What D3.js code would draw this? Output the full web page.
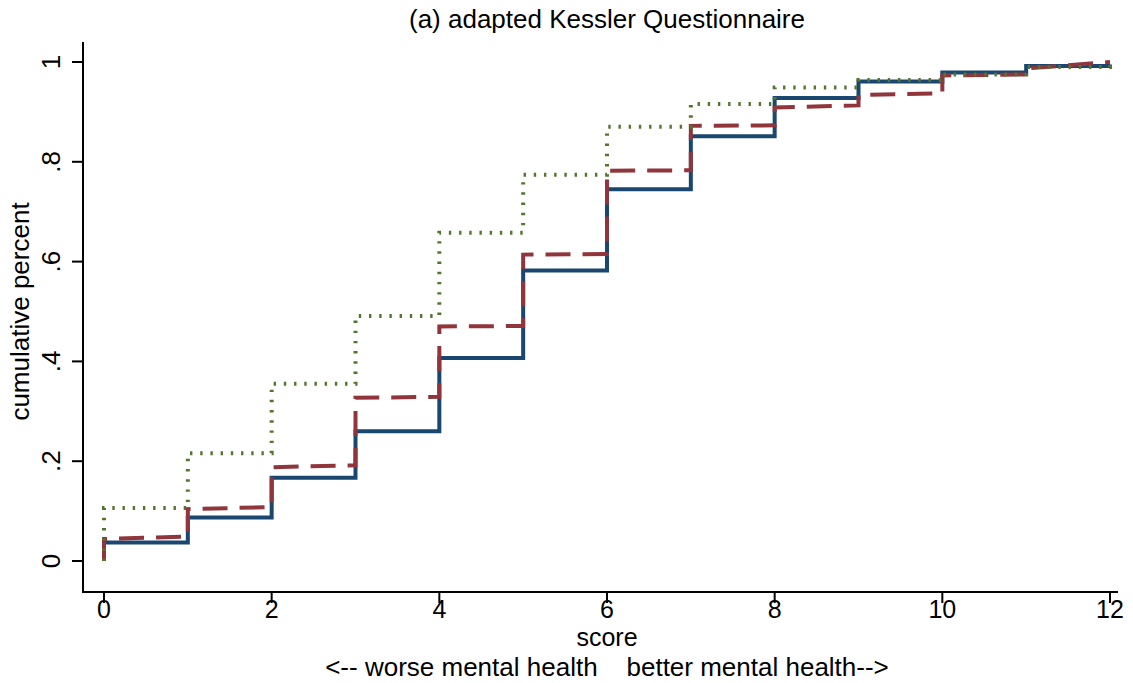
<!DOCTYPE html>
<html>
<head>
<meta charset="utf-8">
<script src="https://cdn.jsdelivr.net/npm/d3@7"></script>
<style>
  html, body { margin: 0; padding: 0; background: #fff; }
  svg { display: block; }
  text { font-family: "Liberation Sans", Arial, sans-serif; fill: #000; }
</style>
</head>
<body>
<svg id="chart" width="1133" height="683"></svg>
<script>
// Scores on the x axis (0..12)
const scores = [0, 1, 2, 3, 4, 5, 6, 7, 8, 9, 10, 11, 12];

// Cumulative share at each score (value holds from score i up to score i+1)
const groupSolid = [0.037, 0.087, 0.167, 0.260, 0.407, 0.582, 0.745, 0.851, 0.928, 0.961, 0.979, 0.992, 0.995];
const groupDashed = [0.044, 0.104, 0.188, 0.327, 0.470, 0.614, 0.782, 0.872, 0.909, 0.934, 0.973, 0.987, 1.000];
// dashed series drifts slightly before the next jump
const groupDashedEnd = [0.049, 0.108, 0.192, 0.329, 0.471, 0.615, 0.783, 0.873, 0.913, 0.937, 0.975, 1.000];
const groupDotted = [0.106, 0.216, 0.355, 0.491, 0.658, 0.774, 0.870, 0.916, 0.949, 0.964, 0.975, 0.990, 0.995];

const xTicks = [0, 2, 4, 6, 8, 10, 12];
const yTicks = [0, 0.2, 0.4, 0.6, 0.8, 1];
const yTickLabels = ["0", ".2", ".4", ".6", ".8", "1"];

const FONT = "26px";

const svg = d3.select("#chart");

const x = d3.scaleLinear().domain([0, 12]).range([104, 1110]);
const y = d3.scaleLinear().domain([0, 1]).range([561, 62]);

// Title
svg.append("text")
  .attr("x", 607).attr("y", 28)
  .attr("text-anchor", "middle")
  .style("font-size", FONT)
  .text("(a) adapted Kessler Questionnaire");

// Y axis
const yAxisX = 83;
svg.append("line")
  .attr("x1", yAxisX).attr("x2", yAxisX)
  .attr("y1", 42).attr("y2", 593)
  .attr("stroke", "#000").attr("stroke-width", 2);

const yAxis = svg.append("g");
yTicks.forEach((t, i) => {
  yAxis.append("line")
    .attr("x1", yAxisX - 11).attr("x2", yAxisX)
    .attr("y1", y(t)).attr("y2", y(t))
    .attr("stroke", "#000").attr("stroke-width", 2);
  yAxis.append("text")
    .attr("transform", `translate(${yAxisX - 23},${y(t)}) rotate(-90)`)
    .attr("text-anchor", "middle")
    .style("font-size", FONT)
    .text(yTickLabels[i]);
});

svg.append("text")
  .attr("transform", `translate(29,${(y(0) + y(1)) / 2}) rotate(-90)`)
  .attr("text-anchor", "middle")
  .style("font-size", FONT)
  .text("cumulative percent");

// X axis
const xAxisY = 592;
svg.append("line")
  .attr("x1", 82).attr("x2", 1118)
  .attr("y1", xAxisY).attr("y2", xAxisY)
  .attr("stroke", "#000").attr("stroke-width", 2);

const xAxis = svg.append("g");
xTicks.forEach(t => {
  xAxis.append("line")
    .attr("x1", x(t)).attr("x2", x(t))
    .attr("y1", xAxisY).attr("y2", xAxisY + 11)
    .attr("stroke", "#000").attr("stroke-width", 2);
  xAxis.append("text")
    .attr("x", x(t)).attr("y", 618)
    .attr("text-anchor", "middle")
    .style("font-size", "25px")
    .text(t);
});

svg.append("text")
  .attr("x", 607).attr("y", 646)
  .attr("text-anchor", "middle")
  .style("font-size", "25px")
  .text("score");
svg.append("text")
  .attr("x", 607).attr("y", 675.5)
  .attr("text-anchor", "middle")
  .style("font-size", FONT)
  .style("white-space", "pre")
  .text("<-- worse mental health    better mental health-->");

// Step path: rise at each score, run to the next score
function stepPoints(levels, ends) {
  const pts = [[scores[0], 0]];
  for (let i = 0; i < scores.length - 1; i++) {
    pts.push([scores[i], levels[i]]);
    pts.push([scores[i + 1], ends ? ends[i] : levels[i]]);
  }
  pts.push([scores[scores.length - 1], levels[levels.length - 1]]);
  return pts;
}

const line = d3.line().x(d => x(d[0])).y(d => y(d[1]));

const series = [
  { pts: stepPoints(groupSolid), color: "#1a476f", width: 4, dash: null },
  { pts: stepPoints(groupDashed, groupDashedEnd), color: "#90353b", width: 4, dash: "25,12" },
  { pts: stepPoints(groupDotted), color: "#55752f", width: 4, dash: "2.4,7.8" }
];

series.forEach(s => {
  const p = svg.append("path")
    .attr("d", line(s.pts))
    .attr("fill", "none")
    .attr("stroke", s.color)
    .attr("stroke-width", s.width)
    .attr("stroke-linejoin", "miter");
  if (s.dash) p.attr("stroke-dasharray", s.dash);
});
</script>
</body>
</html>
